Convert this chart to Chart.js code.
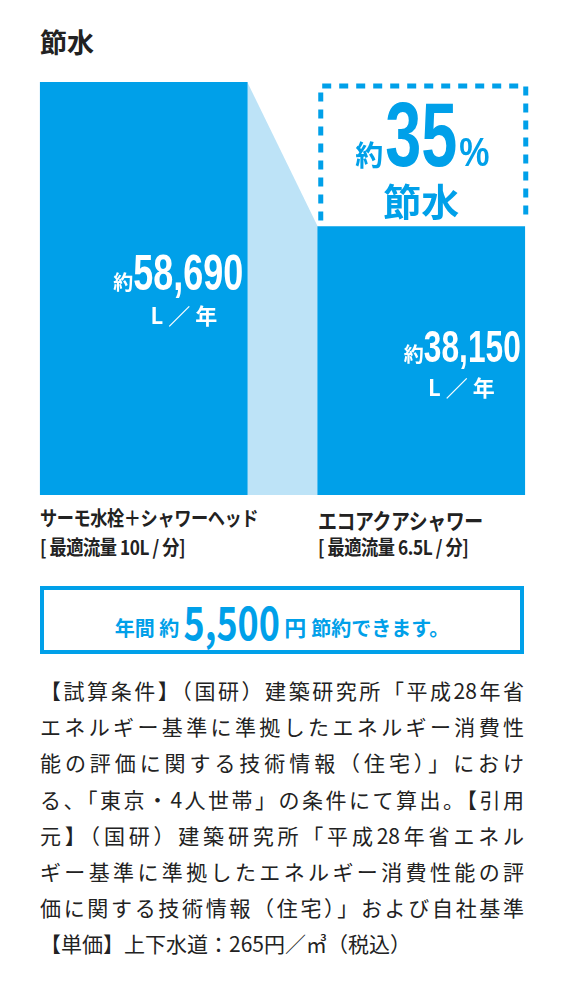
<!DOCTYPE html>
<html><head><meta charset="utf-8">
<script src="https://cdn.jsdelivr.net/npm/chart.js@4"></script>
<style>
body{margin:0;width:569px;height:982px;background:#fff;position:relative;font-family:"Noto Sans CJK JP",sans-serif;overflow:hidden}
#wrap{position:absolute;left:0;top:0;width:569px;height:500px}
.abs{position:absolute;font-weight:bold;white-space:nowrap}
.lab{font-size:20px;color:#222;letter-spacing:-0.5px;transform:scaleX(0.86);transform-origin:left}
#box{position:absolute;left:40px;top:586px;width:476px;height:60px;border:4px solid #00a0e9;color:#00a0e9;font-weight:bold;text-align:center;line-height:60px}
#para{position:absolute;left:40px;top:672px;width:484px;font-size:21px;color:#222}
#para div{height:36.2px;line-height:36.2px;text-align:justify;text-align-last:justify;white-space:nowrap;overflow:visible}
#para div.last{text-align-last:left}
</style></head>
<body>
<div class="abs" style="left:40px;top:22px;font-size:27px;color:#222">節水</div>
<div id="wrap"><canvas id="c"></canvas></div>
<div class="abs lab" style="left:40px;top:503px">サーモ水栓＋シャワーヘッド</div>
<div class="abs lab" style="left:40px;top:532px">[ 最適流量 10L / 分]</div>
<div class="abs lab" style="left:318px;top:503px;font-size:22px">エコアクアシャワー</div>
<div class="abs lab" style="left:318px;top:532px">[ 最適流量 6.5L / 分]</div>
<div id="box"><span style="font-size:20px">年間 約 </span><span style="display:inline-block;font-size:46px;transform:scaleX(0.78);margin:0 -14px;vertical-align:-4px">5,500</span><span style="font-size:22px"> 円 </span><span style="font-size:20px">節約できます。</span></div>
<div id="para">
<div>【試算条件】（国研）建築研究所「平成28年省</div>
<div>エネルギー基準に準拠したエネルギー消費性</div>
<div>能の評価に関する技術情報（住宅）」におけ</div>
<div>る、「東京・4人世帯」の条件にて算出。【引用</div>
<div>元】（国研）建築研究所「平成28年省エネル</div>
<div>ギー基準に準拠したエネルギー消費性能の評</div>
<div>価に関する技術情報（住宅）」および自社基準</div>
<div class="last">【単価】上下水道：265円／㎥（税込）</div>
</div>
<script>
const categories = ['サーモ水栓＋シャワーヘッド', 'エコアクアシャワー'];
const usage = [58690, 38150];
const usageLabels = ['58,690', '38,150'];
const savingPct = '35';

const BLUE = '#00a0e9';
const num = "'Liberation Sans',sans-serif";
const jp = "'Noto Sans CJK JP',sans-serif";

// draw horizontally squeezed text, returns drawn width
function narrow(ctx, text, x, y, font, align, sx) {
  ctx.font = font;
  const w = ctx.measureText(text).width * sx;
  const left = align === 'right' ? x - w : align === 'center' ? x - w / 2 : x;
  ctx.save();
  ctx.textAlign = 'left';
  ctx.translate(left, y);
  ctx.scale(sx, 1);
  ctx.fillText(text, 0, 0);
  ctx.restore();
  return w;
}

const overlay = {
  id: 'overlay',
  beforeDatasetsDraw(chart) {
    const ctx = chart.ctx, bars = chart.getDatasetMeta(0).data;
    const a = bars[0], b = bars[1];
    ctx.save();
    ctx.fillStyle = '#bde3f7';
    ctx.beginPath();
    ctx.moveTo(a.x + a.width / 2, a.y);
    ctx.lineTo(b.x - b.width / 2, b.y);
    ctx.lineTo(b.x - b.width / 2, b.base);
    ctx.lineTo(a.x + a.width / 2, a.base);
    ctx.closePath();
    ctx.fill();
    ctx.restore();
  },
  afterDatasetsDraw(chart) {
    const ctx = chart.ctx, bars = chart.getDatasetMeta(0).data;
    ctx.save();
    ctx.fillStyle = '#fff';
    ctx.textBaseline = 'alphabetic';
    const sizes = [50, 44], ys = [290, 362];
    bars.forEach((bar, i) => {
      const right = bar.x + bar.width / 2 - 4;
      const w = narrow(ctx, usageLabels[i], right, ys[i], 'bold ' + sizes[i] + 'px ' + num, 'right', 0.72);
      ctx.textAlign = 'right';
      ctx.font = 'bold 20px ' + jp;
      ctx.fillText('約', right - w, ys[i]);
      ctx.font = 'bold 22px ' + jp;
      ctx.fillText('L ／ 年', right - 26, ys[i] + 34);
    });
    // dashed box
    const b = bars[1];
    const x0 = b.x - b.width / 2 + 3, x1 = b.x + b.width / 2 + 1;
    ctx.strokeStyle = BLUE;
    ctx.lineWidth = 5;
    ctx.setLineDash([9, 8]);
    ctx.beginPath();
    ctx.moveTo(x0, b.y - 6);
    ctx.lineTo(x0, 86);
    ctx.lineTo(x1, 86);
    ctx.lineTo(x1, b.y - 6);
    ctx.stroke();
    ctx.setLineDash([]);
    ctx.fillStyle = BLUE;
    const w35 = narrow(ctx, savingPct, b.x, 166, 'bold 90px ' + num, 'center', 0.72);
    const sx = b.x - w35 / 2;
    ctx.font = 'bold 28px ' + jp;
    ctx.textAlign = 'right';
    ctx.fillText('約', sx - 2, 166);
    narrow(ctx, '%', sx + w35 + 2, 166, 'bold 40px ' + num, 'left', 0.85);
    ctx.textAlign = 'center';
    ctx.font = 'bold 38px ' + jp;
    ctx.fillText('節水', b.x, 216);
    ctx.restore();
  }
};

new Chart(document.getElementById('c'), {
  type: 'bar',
  data: {
    labels: categories,
    datasets: [{ data: usage, backgroundColor: BLUE, barThickness: 207 }]
  },
  options: {
    responsive: true,
    maintainAspectRatio: false,
    animation: false,
    layout: { padding: { left: 5, right: 9, top: 82, bottom: 5 } },
    scales: {
      x: { display: false, offset: true },
      y: { display: false, min: 0, max: 58690 }
    },
    plugins: { legend: { display: false }, tooltip: { enabled: false } }
  },
  plugins: [overlay]
});
</script>
</body></html>
